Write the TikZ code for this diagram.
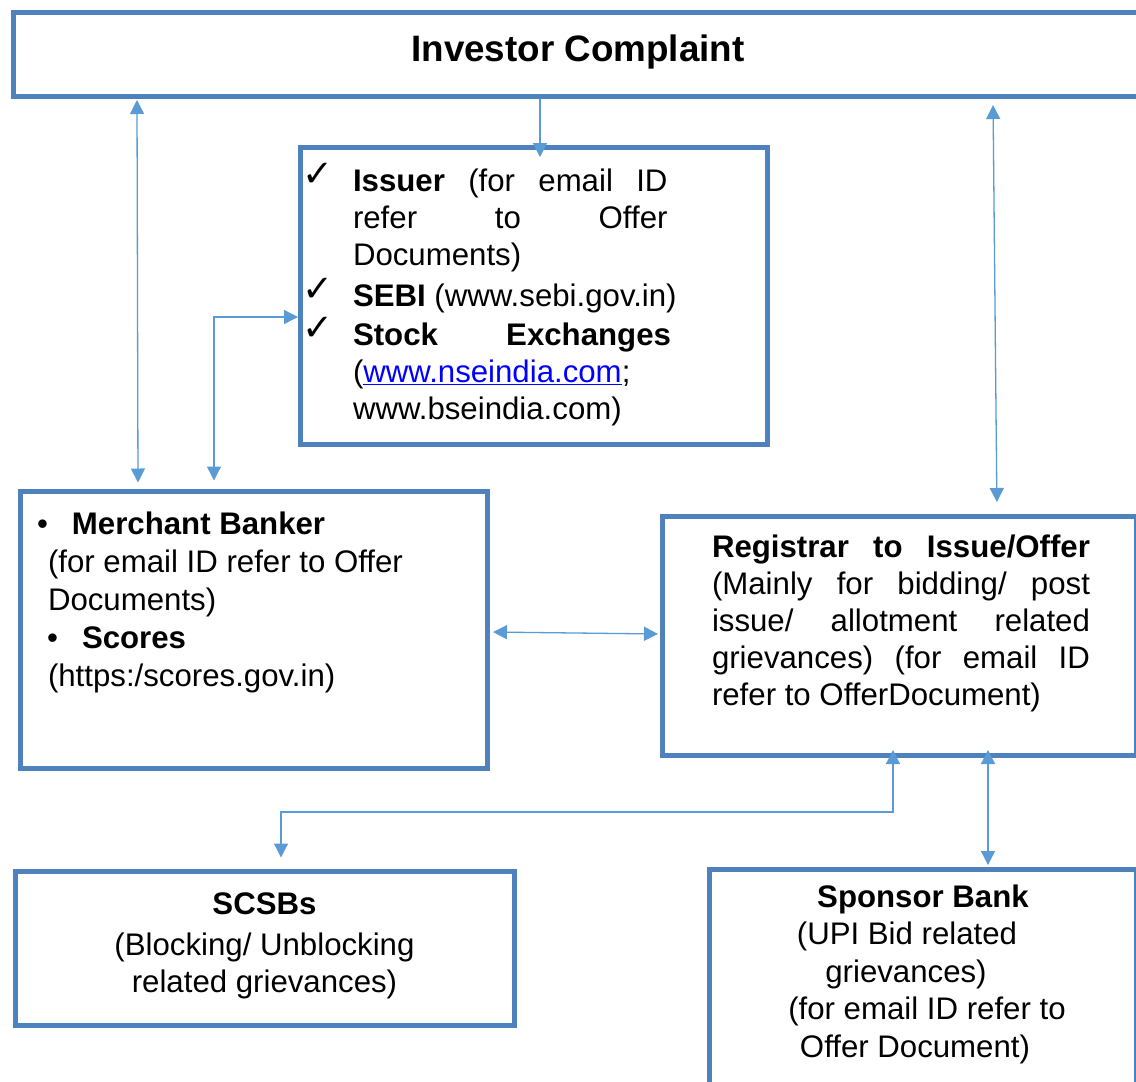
\documentclass[tikz,border=0pt]{standalone}
\usepackage{fontspec}
\setmainfont{Liberation Sans}
\newfontfamily\ckfont{DejaVu Sans}
\usetikzlibrary{arrows.meta}
\definecolor{boxblue}{HTML}{4F81BD}
\definecolor{arrblue}{HTML}{5B9BD5}
\definecolor{linkblue}{HTML}{0000FF}
\newcommand\bsz{\fontsize{31.2}{37}\selectfont}
\newcommand\ck{\llap{{\ckfont\fontsize{37}{37}\selectfont\raisebox{5pt}{✓}}\hskip 20pt}}
\newcommand\cl[2]{\hbox{\hskip#1pt\hbox to 0pt{\hss#2\hss}}}
\begin{document}
\begin{tikzpicture}[x=1pt,y=-1pt,
  box/.style={draw=boxblue,line width=5pt,inner sep=0pt},
  conn/.style={draw=arrblue,line width=1.3pt},
  dblarr/.style={conn,{Triangle[length=14pt,width=14pt]}-{Triangle[length=14pt,width=14pt]}},
  onearr/.style={conn,-{Triangle[length=14pt,width=14pt]}},
  txt/.style={inner sep=0pt,outer sep=0pt,font=\bsz}]
\useasboundingbox (0,0) rectangle (1136,1082);
\fill[white] (0,0) rectangle (1136,1082);
\clip (0,0) rectangle (1136,1082);

% boxes
\node[box,minimum width=1150pt,minimum height=84.5pt] (topbox) at (588,54.25) {};
\node[box,minimum width=466.5pt,minimum height=297pt] (issuer) at (533.75,296) {};
\node[box,minimum width=467pt,minimum height=277.5pt] (merchant) at (254,629.75) {};
\node[box,minimum width=474pt,minimum height=239pt] (registrar) at (899.5,636) {};
\node[box,minimum width=499.5pt,minimum height=154pt] (scsbs) at (264.75,948) {};
\node[box,minimum width=427.5pt,minimum height=231pt] (sponsor) at (922.75,984.5) {};

% texts
\node[txt,anchor=base] (title) at (578,61) {\fontsize{36.8}{44}\selectfont\bfseries Investor Complaint};

\node[txt,anchor=base west] (issuertxt) at (353,191) {\vtop{\bsz
  \hbox to 314.5pt{\ck\textbf{Issuer} (for email ID}
  \hbox to 314.5pt{refer to Offer}
  \hbox{Documents)}
  \vskip 4pt
  \hbox{\ck\textbf{SEBI} (www.sebi.gov.in)}
  \vskip 2pt
  \hbox to 318pt{\ck\textbf{Stock Exchanges}}
  \hbox{({\color{linkblue}\underline{www.nseindia.com}};}
  \hbox{www.bseindia.com)}}};

\node[txt,anchor=base west] (merchanttxt) at (48,534) {\vtop{\bsz\baselineskip=38pt
  \hbox{\hskip24pt\llap{•\hskip24pt}\textbf{Merchant Banker}}
  \hbox{(for email ID refer to Offer}
  \hbox{Documents)}
  \hbox{\hskip34pt\llap{•\hskip24pt}\textbf{Scores}}
  \hbox{(https:/scores.gov.in)}}};

\node[txt,anchor=base west] (registrartxt) at (712,557) {\vtop{\bsz
  \hbox to 378pt{\textbf{Registrar to Issue/Offer}}
  \hbox to 378pt{(Mainly for bidding/ post}
  \hbox to 378pt{issue/ allotment related}
  \hbox to 378pt{grievances) (for email ID}
  \hbox{refer to OfferDocument)}}};

\node[txt,anchor=base west] (scsbstxt) at (264,914) {\vtop{\bsz
  \cl{0}{\textbf{SCSBs}}
  \vskip 4pt
  \cl{0}{(Blocking/ Unblocking}
  \cl{0}{related grievances)}}};

\node[txt,anchor=base west] (sponsortxt) at (900,907) {\vtop{\bsz\baselineskip=37.5pt
  \cl{23}{\textbf{Sponsor Bank}}
  \cl{7}{(UPI Bid related}
  \cl{6}{grievances)}
  \cl{27}{(for email ID refer to}
  \cl{15}{Offer Document)}}};

% connector helper coordinates
\coordinate (xa) at (137,0);
\coordinate (xb) at (138,0);
\coordinate (c1) at (214,317);
\coordinate (xc) at (540,0);
\coordinate (xd) at (993,0);
\coordinate (xe) at (997,0);
\coordinate (ya) at (0,632);
\coordinate (yb) at (0,634);
\coordinate (xf) at (893,0);
\coordinate (c3) at (281,812);
\coordinate (xg) at (988,0);

% connectors
\draw[dblarr,shorten <=1pt,shorten >=6pt] (xa |- topbox.south) -- (xb |- merchant.north);
\draw[dblarr,shorten >=8pt] (c1 -| issuer.west) -- (c1) -- (c1 |- merchant.north);
\draw[onearr,shorten >=-12pt] (xc |- topbox.south) -- (xc |- issuer.north);
\draw[dblarr,shorten <=6pt,shorten >=12pt] (xd |- topbox.south) -- (xe |- registrar.north);
\draw[dblarr,shorten <=3pt,shorten >=2pt] (merchant.east |- ya) -- (registrar.west |- yb);
\draw[dblarr,shorten <=-8pt,shorten >=11pt] (xf |- registrar.south) |- (c3) -- (c3 |- scsbs.north);
\draw[dblarr,shorten <=-8pt,shorten >=1.5pt] (xg |- registrar.south) -- (xg |- sponsor.north);
\end{tikzpicture}
\end{document}
